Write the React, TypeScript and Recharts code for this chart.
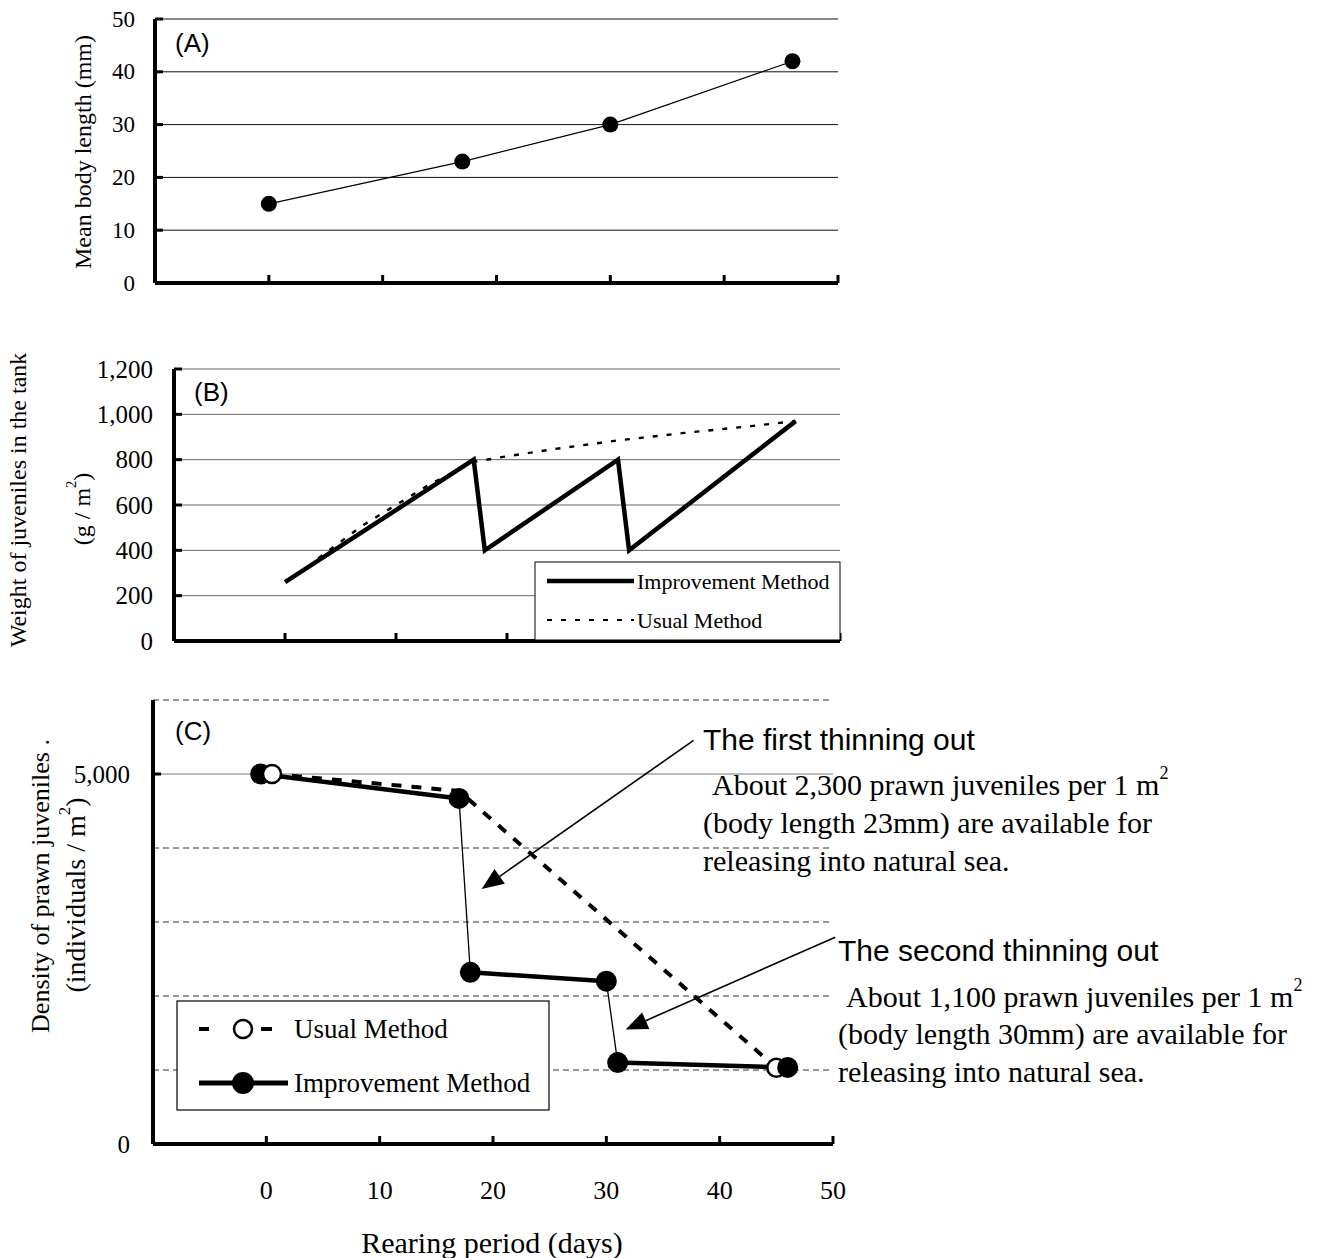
import React from 'react';
import { LineChart, Line, XAxis, YAxis, CartesianGrid, ReferenceLine } from 'recharts';

const SERIF = '"Liberation Serif", "Times New Roman", serif';
const SANS = '"Liberation Sans", Arial, sans-serif';

// shared x axis (rearing period, days)
const dayTicks = [0, 10, 20, 30, 40, 50];
const dayDomain = [-10, 50];

// (A) mean body length (mm)
const lengthDays = [0, 17, 30, 46];
const lengthValues = [15, 23, 30, 42];
const lengthTicks = [0, 10, 20, 30, 40, 50];

// (B) weight of juveniles in the tank (g / m2)
const improvedWeightDays = [0, 17, 18, 30, 31, 46];
const improvedWeightValues = [260, 800, 400, 800, 400, 970];
const usualWeightDays = [3, 7, 13, 17, 20, 24, 30, 36, 42, 46];
const usualWeightValues = [365, 510, 690, 790, 815, 845, 885, 918, 948, 970];
const weightTicks = [0, 200, 400, 600, 800, 1000, 1200];

// (C) density of prawn juveniles (individuals / m2)
const usualDensityDays = [0.5, 17, 45];
const usualDensityValues = [5000, 4770, 1030];
const improvedDensityDays = [-0.5, 17, 18, 30, 31, 46];
const improvedDensityValues = [5000, 4670, 2320, 2200, 1100, 1035];
const growOutSegments = [[0, 1], [2, 3], [4, 5]];
const densityTicks = [0, 1000, 2000, 3000, 4000, 5000, 6000];
const densityLabelled = [0, 5000];
const densityDashedGrid = [1000, 2000, 3000, 4000, 6000];
const densitySolidGrid = [5000];

// annotation arrows (data coordinates of panel C)
const arrowStartDays = [37.7, 50.2];
const arrowStartValues = [5455, 2795];
const arrowEndDays = [19.0, 31.7];
const arrowEndValues = [3446, 1547];

const toData = (xs: number[], ys: number[]) => xs.map((d, i) => ({ day: d, value: ys[i] }));

const lengthData = toData(lengthDays, lengthValues);
const improvedWeightData = toData(improvedWeightDays, improvedWeightValues);
const usualWeightData = toData(usualWeightDays, usualWeightValues);
const usualDensityData = toData(usualDensityDays, usualDensityValues);
const usualDensityFirst = usualDensityData.slice(0, 1);
const improvedDensityData = toData(improvedDensityDays, improvedDensityValues);
const growOutData = growOutSegments.map(([a, b]) => [improvedDensityData[a], improvedDensityData[b]]);

const fmt = (v: number) => v.toLocaleString('en-US');

const makeXTick = (showLabel: boolean, fontSize: number, labelOffset: number) => (props: any) => {
  const { x, y, payload } = props;
  return (
    <g>
      <line x1={x} x2={x} y1={y} y2={y - 8} stroke="#000" strokeWidth={3} />
      {showLabel && (
        <text x={x} y={y + labelOffset} textAnchor="middle" dominantBaseline="central"
          fontFamily={SERIF} fontSize={fontSize} fill="#000">{payload.value}</text>
      )}
    </g>
  );
};

const makeYTick = (fontSize: number, gap: number, labelled: number[] | null, marked: number[] | null) => (props: any) => {
  const { x, y, payload } = props;
  const v = payload.value;
  const showLabel = !labelled || labelled.includes(v);
  const showMark = (!marked || marked.includes(v)) && v !== 0;
  return (
    <g>
      {showMark && <line x1={x} x2={x + 8} y1={y} y2={y} stroke="#000" strokeWidth={3} />}
      {showLabel && (
        <text x={x - gap} y={y} textAnchor="end" dominantBaseline="central"
          fontFamily={SERIF} fontSize={fontSize} fill="#000">{fmt(v)}</text>
      )}
    </g>
  );
};

const openCircle = (r: number) => (props: any) => {
  const { cx, cy, index } = props;
  return <circle key={`o${index}`} cx={cx} cy={cy} r={r} fill="#fff" stroke="#000" strokeWidth={2.5} />;
};

const lastOpenCircle = (props: any) => {
  const { cx, cy, index } = props;
  if (index !== usualDensityData.length - 1) return <g key={`n${index}`} />;
  return <circle key={`o${index}`} cx={cx} cy={cy} r={9} fill="#fff" stroke="#000" strokeWidth={2.5} />;
};

const arrowShape = (props: any) => {
  const { x1, y1, x2, y2 } = props;
  const ang = Math.atan2(y2 - y1, x2 - x1);
  const len = 22;
  const half = 9;
  const bx = x2 - len * Math.cos(ang);
  const by = y2 - len * Math.sin(ang);
  const px = -Math.sin(ang) * half;
  const py = Math.cos(ang) * half;
  return (
    <g>
      <line x1={x1} y1={y1} x2={bx} y2={by} stroke="#000" strokeWidth={1.6} />
      <polygon points={`${x2},${y2} ${bx + px},${by + py} ${bx - px},${by - py}`} fill="#000" />
    </g>
  );
};

const axisLine = { stroke: '#000', strokeWidth: 4 };

const Sup = ({ children }: any) => (
  <tspan dy={-11} fontSize="60%">{children}</tspan>
);

export default function App() {
  return (
    <div style={{ position: 'absolute', left: 0, top: 0, width: 1322, height: 1258, background: '#fff', overflow: 'hidden' }}>
      {/* Panel A */}
      <div style={{ position: 'absolute', left: 0, top: 0 }}>
        <LineChart width={850} height={310} margin={{ top: 19, right: 12, left: 0, bottom: 0 }}>
          <CartesianGrid vertical={false} stroke="#111" strokeWidth={1} />
          <XAxis dataKey="day" type="number" domain={dayDomain} ticks={dayTicks} interval={0}
            height={27} tickSize={0} tickMargin={0} axisLine={axisLine} tick={makeXTick(false, 24, 0)} />
          <YAxis type="number" domain={[0, 50]} ticks={lengthTicks} interval={0} width={155}
            tickSize={0} tickMargin={0} axisLine={axisLine} tick={makeYTick(23, 20, null, null)} />
          <Line data={lengthData} dataKey="value" type="linear" stroke="#000" strokeWidth={1.2}
            dot={{ r: 8, fill: '#000', stroke: '#000', strokeWidth: 0 }} isAnimationActive={false} />
        </LineChart>
      </div>

      {/* Panel B */}
      <div style={{ position: 'absolute', left: 0, top: 350 }}>
        <LineChart width={850} height={320} margin={{ top: 19, right: 10, left: 0, bottom: 0 }}>
          <CartesianGrid vertical={false} stroke="#666" strokeWidth={1} />
          <XAxis dataKey="day" type="number" domain={dayDomain} ticks={dayTicks} interval={0}
            height={29} tickSize={0} tickMargin={0} axisLine={axisLine} tick={makeXTick(false, 24, 0)} />
          <YAxis type="number" domain={[0, 1200]} ticks={weightTicks} interval={0} width={174}
            tickSize={0} tickMargin={0} axisLine={axisLine} tick={makeYTick(25, 21, null, null)} />
          <Line data={usualWeightData} dataKey="value" type="linear" stroke="#000" strokeWidth={2.4}
            strokeDasharray="5 9" dot={false} isAnimationActive={false} />
          <Line data={improvedWeightData} dataKey="value" type="linear" stroke="#000" strokeWidth={4.5}
            strokeLinejoin="miter" dot={false} isAnimationActive={false} />
        </LineChart>
      </div>

      {/* Panel C */}
      <div style={{ position: 'absolute', left: 0, top: 680 }}>
        <LineChart width={850} height={578} margin={{ top: 20, right: 17, left: 0, bottom: 0 }}>
          {densityDashedGrid.map((v) => (
            <ReferenceLine key={`g${v}`} y={v} stroke="#333" strokeWidth={1} strokeDasharray="6 4" />
          ))}
          {densitySolidGrid.map((v) => (
            <ReferenceLine key={`s${v}`} y={v} stroke="#777" strokeWidth={1} />
          ))}
          <XAxis dataKey="day" type="number" domain={dayDomain} ticks={dayTicks} interval={0}
            height={114} tickSize={0} tickMargin={0} axisLine={axisLine} tick={makeXTick(true, 26, 46)} />
          <YAxis type="number" domain={[0, 6000]} ticks={densityTicks} interval={0} width={153}
            tickSize={0} tickMargin={0} axisLine={axisLine} tick={makeYTick(25, 23, densityLabelled, [5000])} />
          <Line data={usualDensityData} dataKey="value" type="linear" stroke="#000" strokeWidth={4}
            strokeDasharray="10 10" dot={lastOpenCircle} isAnimationActive={false} />
          {growOutData.map((seg, i) => (
            <Line key={`t${i}`} data={seg} dataKey="value" type="linear" stroke="#000" strokeWidth={4.5}
              dot={false} isAnimationActive={false} />
          ))}
          <Line data={improvedDensityData} dataKey="value" type="linear" stroke="#000" strokeWidth={1.3}
            dot={{ r: 10.5, fill: '#000', stroke: '#000', strokeWidth: 0 }} isAnimationActive={false} />
          <Line data={usualDensityFirst} dataKey="value" type="linear" stroke="none"
            dot={openCircle(9)} isAnimationActive={false} />
          {arrowStartDays.map((d, i) => (
            <ReferenceLine key={`a${i}`} ifOverflow="visible"
              segment={[{ x: d, y: arrowStartValues[i] }, { x: arrowEndDays[i], y: arrowEndValues[i] }]}
              stroke="#000" shape={arrowShape} />
          ))}
        </LineChart>
      </div>

      {/* Text and legends */}
      <svg width={1322} height={1258} style={{ position: 'absolute', left: 0, top: 0, pointerEvents: 'none' }}>
        <text x={175} y={43} fontFamily={SANS} fontSize={26} dominantBaseline="central">(A)</text>
        <text x={194} y={392} fontFamily={SANS} fontSize={26} dominantBaseline="central">(B)</text>
        <text x={175} y={731} fontFamily={SANS} fontSize={26} dominantBaseline="central">(C)</text>

        <text transform="translate(83,152) rotate(-90)" textAnchor="middle" dominantBaseline="central"
          fontFamily={SERIF} fontSize={24}>Mean body length (mm)</text>
        <text transform="translate(18,500) rotate(-90)" textAnchor="middle" dominantBaseline="central"
          fontFamily={SERIF} fontSize={24}>Weight of juveniles in the tank</text>
        <text transform="translate(82,509) rotate(-90)" textAnchor="middle" dominantBaseline="central"
          fontFamily={SERIF} fontSize={24}>(g / m<Sup>2</Sup><tspan dy={11}>)</tspan></text>
        <text transform="translate(40,886) rotate(-90)" textAnchor="middle" dominantBaseline="central"
          fontFamily={SERIF} fontSize={26}>Density of prawn juveniles .</text>
        <text transform="translate(75,895) rotate(-90)" textAnchor="middle" dominantBaseline="central"
          fontFamily={SERIF} fontSize={28}>(individuals / m<Sup>2</Sup><tspan dy={11}>)</tspan></text>
        <text x={492} y={1242} textAnchor="middle" dominantBaseline="central"
          fontFamily={SERIF} fontSize={30}>Rearing period (days)</text>

        {/* Legend B */}
        <rect x={535} y={562} width={305} height={78} fill="#fff" stroke="#000" strokeWidth={1} />
        <line x1={547} x2={634} y1={581} y2={581} stroke="#000" strokeWidth={4.5} />
        <text x={637} y={581} fontFamily={SERIF} fontSize={22} dominantBaseline="central">Improvement Method</text>
        <line x1={547} x2={634} y1={620} y2={620} stroke="#000" strokeWidth={2} strokeDasharray="5 9" />
        <text x={637} y={620} fontFamily={SERIF} fontSize={22} dominantBaseline="central">Usual Method</text>

        {/* Legend C */}
        <rect x={177} y={1001} width={372} height={109} fill="#fff" stroke="#000" strokeWidth={1.2} />
        <line x1={199} x2={209} y1={1029} y2={1029} stroke="#000" strokeWidth={4} />
        <line x1={261} x2={272} y1={1029} y2={1029} stroke="#000" strokeWidth={4} />
        <circle cx={243} cy={1029} r={9} fill="#fff" stroke="#000" strokeWidth={2.5} />
        <text x={294} y={1029} fontFamily={SERIF} fontSize={27} dominantBaseline="central">Usual Method</text>
        <line x1={199} x2={288} y1={1083} y2={1083} stroke="#000" strokeWidth={5} />
        <circle cx={243} cy={1083} r={11} fill="#000" />
        <text x={294} y={1083} fontFamily={SERIF} fontSize={27} dominantBaseline="central">Improvement Method</text>

        {/* Annotations */}
        <text x={703} y={739} fontFamily={SANS} fontSize={30} dominantBaseline="central">The first thinning out</text>
        <text x={712} y={784} fontFamily={SERIF} fontSize={30} dominantBaseline="central">About 2,300 prawn juveniles per 1 m<Sup>2</Sup></text>
        <text x={703} y={822} fontFamily={SERIF} fontSize={30} dominantBaseline="central">(body length 23mm) are available for</text>
        <text x={703} y={860} fontFamily={SERIF} fontSize={30} dominantBaseline="central">releasing into natural sea.</text>

        <text x={838} y={950} fontFamily={SANS} fontSize={30} dominantBaseline="central">The second thinning out</text>
        <text x={846} y={996} fontFamily={SERIF} fontSize={30} dominantBaseline="central">About 1,100 prawn juveniles per 1 m<Sup>2</Sup></text>
        <text x={838} y={1033} fontFamily={SERIF} fontSize={30} dominantBaseline="central">(body length 30mm) are available for</text>
        <text x={838} y={1071} fontFamily={SERIF} fontSize={30} dominantBaseline="central">releasing into natural sea.</text>
      </svg>
    </div>
  );
}
